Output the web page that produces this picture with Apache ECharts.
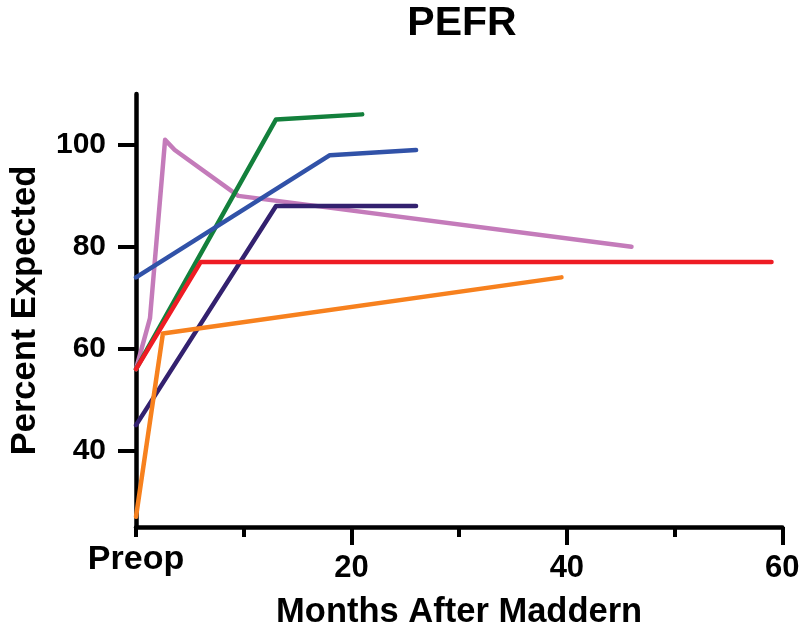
<!DOCTYPE html>
<html>
<head>
<meta charset="utf-8">
<script src="https://cdn.jsdelivr.net/npm/echarts@6/dist/echarts.min.js"></script>
<style>
html,body{margin:0;padding:0;background:#fff;}
#chart{width:804px;height:639px;}
</style>
</head>
<body>
<div id="chart"></div>
<script>
// Data (months after Maddern, percent expected)
const pinkData   = [[0,56],[1.3,66],[2.7,101],[3.6,99],[9.5,90],[46,80]];
const greenData  = [[0,56],[13,105],[21,106]];
const blueData   = [[0,74],[18,98],[26,99]];
const purpleData = [[0,45],[13,88],[26,88]];
const orangeData = [[0,27],[2.5,63],[39.5,74]];
const redData    = [[0,56],[6,77],[59,77]];
const yTicks = [40,60,80,100];
const xMajorTicks = [20,40,60];

const FONT = '"Liberation Sans", Arial, Helvetica, sans-serif';
const chart = echarts.init(document.getElementById('chart'), null, {renderer:'canvas'});

function mk(name, data, color){
  return {name, type:'line', data, xAxisIndex:0, yAxisIndex:0, symbol:'none',
    lineStyle:{color, width:4.5, cap:'round', join:'round'}, animation:false};
}

chart.setOption({
  animation:false,
  backgroundColor:'#fff',
  title:{text:'PEFR', left:457, top:-2, textAlign:'center',
    textStyle:{fontFamily:FONT, fontWeight:'bold', fontSize:41, color:'#000'}},
  grid:{left:132.5, right:21.7, top:94, bottom:112, containLabel:false},
  xAxis:[{
    type:'value', min:0, max:60, interval:20,
    name:'Months After Maddern', nameLocation:'middle', nameGap:68,
    nameTextStyle:{fontFamily:FONT, fontWeight:'bold', fontSize:34.5, color:'#000'},
    axisLine:{show:true, lineStyle:{color:'#000', width:4.5}},
    axisTick:{show:true, length:18, lineStyle:{color:'#000', width:4}, customValues:xMajorTicks},
    axisLabel:{show:true, margin:26, customValues:[0].concat(xMajorTicks),
      formatter:function(v){ return v===0 ? '{p|Preop}' : '{n|'+v+'}'; },
      rich:{
        p:{fontFamily:FONT, fontWeight:'bold', fontSize:34, color:'#000', lineHeight:14},
        n:{fontFamily:FONT, fontWeight:'bold', fontSize:31, color:'#000'}
      }},
    splitLine:{show:false}
  },{
    type:'value', min:0, max:60, interval:10, position:'bottom',
    axisLine:{show:false},
    axisTick:{show:true, length:10, lineStyle:{color:'#000', width:4}},
    axisLabel:{show:false}, splitLine:{show:false}
  }],
  yAxis:{
    type:'value', min:25, max:110,
    name:'Percent Expected', nameLocation:'middle', nameGap:93,
    nameTextStyle:{fontFamily:FONT, fontWeight:'bold', fontSize:34.5, color:'#000'},
    axisLine:{show:true, lineStyle:{color:'#000', width:4.5}},
    axisTick:{show:true, length:18, lineStyle:{color:'#000', width:4}, customValues:yTicks},
    axisLabel:{show:true, margin:30, customValues:yTicks,
      fontFamily:FONT, fontWeight:'bold', fontSize:30, color:'#000'},
    splitLine:{show:false}
  },
  series:[
    mk('pink', pinkData, '#c47bba'),
    mk('green', greenData, '#13803c'),
    mk('blue', blueData, '#3152a8'),
    mk('purple', purpleData, '#33216f'),
    mk('orange', orangeData, '#f7811e'),
    mk('red', redData, '#ee1c24')
  ]
});
</script>
</body>
</html>
